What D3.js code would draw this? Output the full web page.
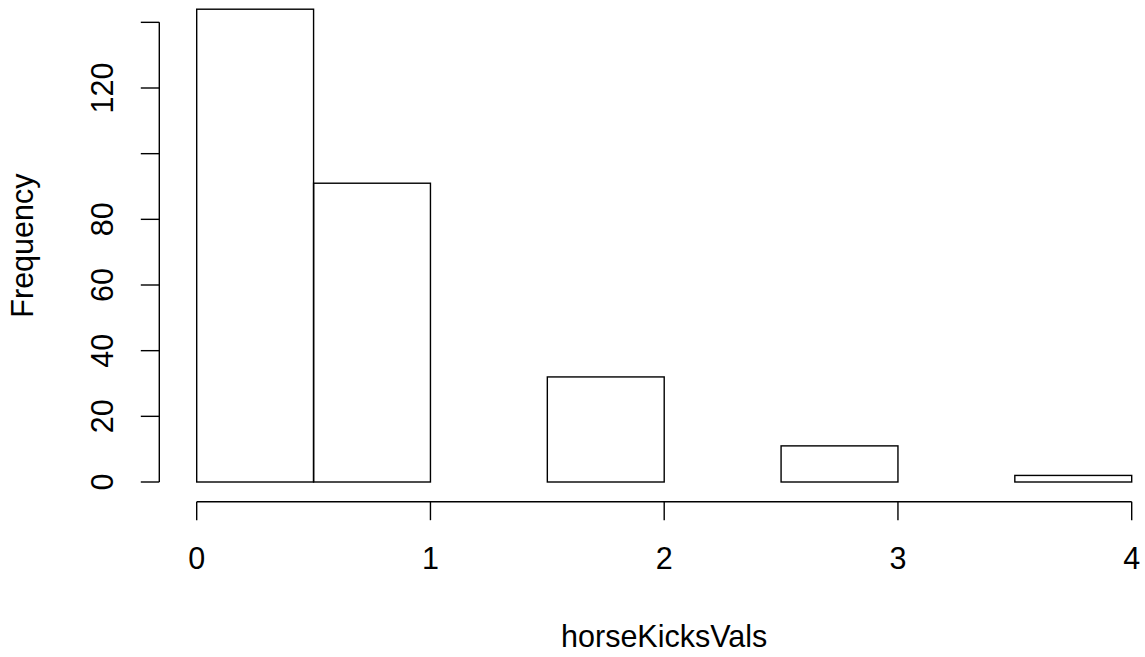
<!DOCTYPE html>
<html>
<head>
<meta charset="utf-8">
<script src="https://cdn.jsdelivr.net/npm/d3@7"></script>
<style>
  body { margin: 0; background: #fff; }
  text { font-family: "Liberation Sans", Arial, sans-serif; fill: #000; }
</style>
</head>
<body>
<div id="chart"></div>
<script>
// histogram of horseKicksVals, bin edges and counts
var binStarts = [0, 0.5, 1, 1.5, 2, 2.5, 3, 3.5];
var binEnds = [0.5, 1, 1.5, 2, 2.5, 3, 3.5, 4];
var counts = [144, 91, 0, 32, 0, 11, 0, 2];
var xTicks = [0, 1, 2, 3, 4];
var yTicks = [0, 20, 40, 60, 80, 100, 120, 140];
var yLabels = ["0", "20", "40", "60", "80", "", "120", ""];

var width = 1145, height = 657;
var fs = 30.5;

var svg = d3.select("#chart")
  .append("svg")
  .attr("width", width)
  .attr("height", height);

var x = d3.scaleLinear().domain([0, 4]).range([196.7, 1131.7]);
var y = d3.scaleLinear().domain([0, 120]).range([482, 88]);

var bars = binStarts.map(function (s, i) {
  return { x0: s, x1: binEnds[i], n: counts[i] };
});

svg.append("g")
  .selectAll("rect")
  .data(bars)
  .enter()
  .append("rect")
  .attr("x", function (d) { return x(d.x0); })
  .attr("y", function (d) { return y(d.n); })
  .attr("width", function (d) { return x(d.x1) - x(d.x0); })
  .attr("height", function (d) { return y(0) - y(d.n); })
  .attr("fill", "none")
  .attr("stroke", "#000")
  .attr("stroke-width", 1.4);

// x axis
var xAxis = svg.append("g").attr("transform", "translate(0,501.7)");
xAxis.append("path")
  .attr("d", "M" + x(0) + ",0H" + x(4))
  .attr("stroke", "#000").attr("stroke-width", 1.4).attr("fill", "none");
xAxis.selectAll(".tick")
  .data(xTicks)
  .enter()
  .append("line")
  .attr("x1", function (d) { return x(d); })
  .attr("x2", function (d) { return x(d); })
  .attr("y1", 0).attr("y2", 18.5)
  .attr("stroke", "#000").attr("stroke-width", 1.4);
xAxis.selectAll(".lbl")
  .data(xTicks)
  .enter()
  .append("text")
  .attr("x", function (d) { return x(d); })
  .attr("y", 67.6)
  .attr("text-anchor", "middle")
  .attr("font-size", fs)
  .text(function (d) { return d; });

// y axis
var yAxis = svg.append("g").attr("transform", "translate(159.3,0)");
yAxis.append("path")
  .attr("d", "M0," + y(0) + "V" + y(140))
  .attr("stroke", "#000").attr("stroke-width", 1.4).attr("fill", "none");
yAxis.selectAll(".tick")
  .data(yTicks)
  .enter()
  .append("line")
  .attr("y1", function (d) { return y(d); })
  .attr("y2", function (d) { return y(d); })
  .attr("x1", 0).attr("x2", -18.5)
  .attr("stroke", "#000").attr("stroke-width", 1.4);
yAxis.selectAll(".lbl")
  .data(yTicks)
  .enter()
  .append("text")
  .attr("transform", function (d) { return "translate(-46.5," + y(d) + ") rotate(-90)"; })
  .attr("text-anchor", "middle")
  .attr("font-size", fs)
  .text(function (d, i) { return yLabels[i]; });

// titles
svg.append("text")
  .attr("x", x(2))
  .attr("y", 647)
  .attr("text-anchor", "middle")
  .attr("font-size", fs)
  .text("horseKicksVals");

svg.append("text")
  .attr("transform", "translate(33," + y(72) + ") rotate(-90)")
  .attr("text-anchor", "middle")
  .attr("font-size", fs)
  .text("Frequency");
</script>
</body>
</html>
